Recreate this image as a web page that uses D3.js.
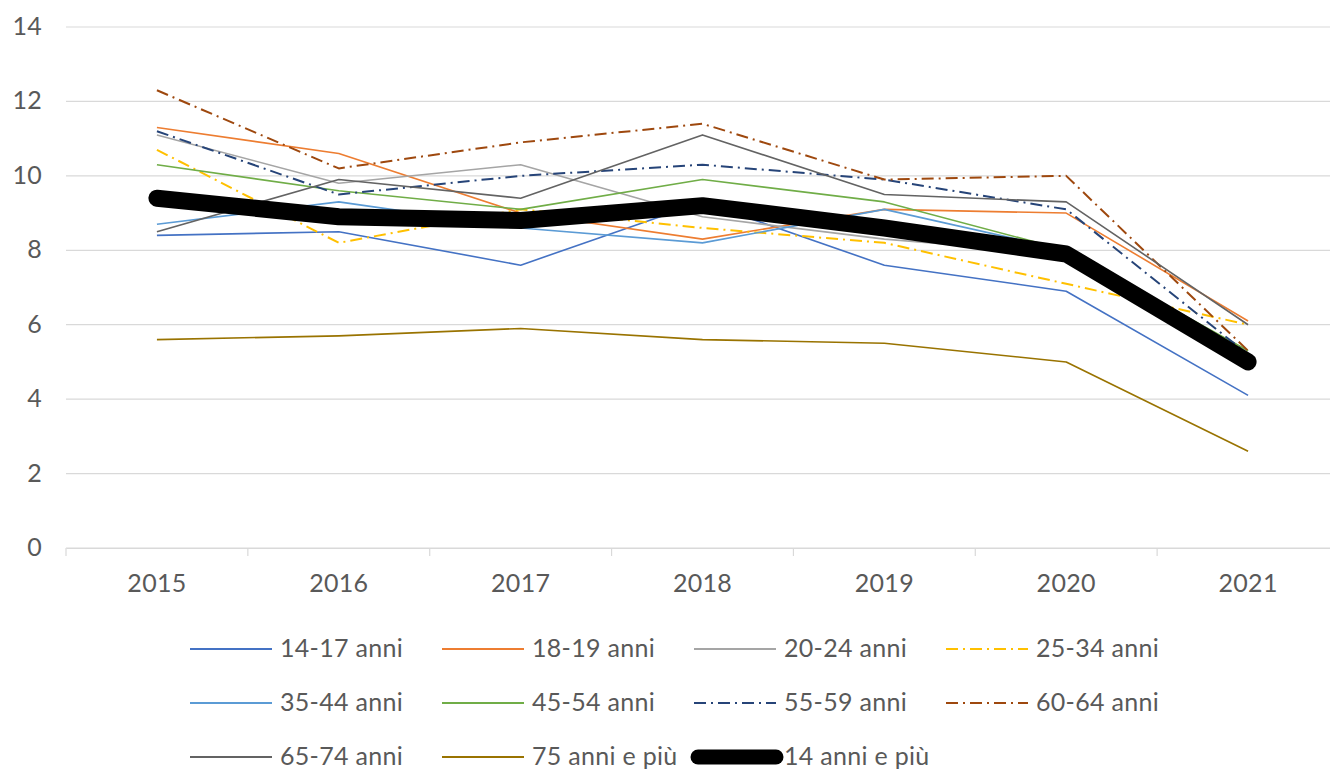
<!DOCTYPE html>
<html>
<head>
<meta charset="utf-8">
<script src="https://cdn.jsdelivr.net/npm/d3@7"></script>
<style>
  body { margin: 0; background: #fff; }
  svg { display: block; }
  text { font-family: Lato, "Open Sans", sans-serif; fill: #595959; letter-spacing: 0.3px; }
</style>
</head>
<body>
<svg id="chart" width="1330" height="771"></svg>
<script>
// years on the category axis
var years = ["2015", "2016", "2017", "2018", "2019", "2020", "2021"];
var yTicks = [0, 2, 4, 6, 8, 10, 12, 14];

// values, one array per age group
var a14_17 = [8.4, 8.5, 7.6, 9.3, 7.6, 6.9, 4.1];
var a18_19 = [11.3, 10.6, 9.0, 8.3, 9.1, 9.0, 6.1];
var a20_24 = [11.1, 9.8, 10.3, 8.9, 8.3, 7.9, 5.3];
var a25_34 = [10.7, 8.2, 9.1, 8.6, 8.2, 7.1, 6.0];
var a35_44 = [8.7, 9.3, 8.6, 8.2, 9.1, 8.0, 5.2];
var a45_54 = [10.3, 9.6, 9.1, 9.9, 9.3, 8.0, 5.3];
var a55_59 = [11.2, 9.5, 10.0, 10.3, 9.9, 9.1, 5.2];
var a60_64 = [12.3, 10.2, 10.9, 11.4, 9.9, 10.0, 5.3];
var a65_74 = [8.5, 9.9, 9.4, 11.1, 9.5, 9.3, 6.0];
var a75 = [5.6, 5.7, 5.9, 5.6, 5.5, 5.0, 2.6];
var a14plus = [9.4, 8.9, 8.8, 9.2, 8.6, 7.9, 5.0];

var dashDot = "12,5,2,5";

var series = [
    { name: "14-17 anni", values: a14_17, color: "#4472c4", width: 1.6, dash: null },
    { name: "18-19 anni", values: a18_19, color: "#ed7d31", width: 1.6, dash: null },
    { name: "20-24 anni", values: a20_24, color: "#a5a5a5", width: 1.6, dash: null },
    { name: "25-34 anni", values: a25_34, color: "#ffc000", width: 2, dash: dashDot },
    { name: "35-44 anni", values: a35_44, color: "#5b9bd5", width: 1.6, dash: null },
    { name: "45-54 anni", values: a45_54, color: "#70ad47", width: 1.6, dash: null },
    { name: "55-59 anni", values: a55_59, color: "#264478", width: 2, dash: dashDot },
    { name: "60-64 anni", values: a60_64, color: "#9e480e", width: 2, dash: dashDot },
    { name: "65-74 anni", values: a65_74, color: "#636363", width: 1.6, dash: null },
    { name: "75 anni e più", values: a75, color: "#997300", width: 1.6, dash: null },
    { name: "14 anni e più", values: a14plus, color: "#000000", width: 17, dash: null }
];

var svg = d3.select("#chart");

var x = d3.scaleBand()
    .domain(years)
    .range([66, 1339]);

var y = d3.scaleLinear()
    .domain([0, 14])
    .range([548, 27]);

// horizontal gridlines
svg.append("g")
    .selectAll("line")
    .data(yTicks)
    .enter()
    .append("line")
    .attr("x1", 66)
    .attr("x2", 1339)
    .attr("y1", d => y(d))
    .attr("y2", d => y(d))
    .attr("stroke", "#d9d9d9")
    .attr("stroke-width", 1.2);

// y tick labels
svg.append("g")
    .selectAll("text")
    .data(yTicks)
    .enter()
    .append("text")
    .attr("x", 42)
    .attr("y", d => y(d) + 8)
    .attr("text-anchor", "end")
    .style("font-size", "25px")
    .text(d => d);

// category axis with tick marks between years
var xAxis = svg.append("g")
    .attr("transform", "translate(0," + y(0) + ")")
    .call(d3.axisBottom(x).tickSize(0).tickPadding(26));
xAxis.select(".domain").attr("stroke", "#d9d9d9").attr("stroke-width", 1.2);
xAxis.selectAll("text")
    .style("font-size", "25px")
    .style("font-family", "Lato, 'Open Sans', sans-serif")
    .attr("fill", "#595959");

var bounds = years.map(d => x(d)).concat([x(years[years.length - 1]) + x.bandwidth()]);
svg.append("g")
    .selectAll("line")
    .data(bounds)
    .enter()
    .append("line")
    .attr("x1", d => d)
    .attr("x2", d => d)
    .attr("y1", y(0))
    .attr("y2", y(0) + 8)
    .attr("stroke", "#d9d9d9")
    .attr("stroke-width", 1.2);

// lines
var line = d3.line()
    .x((d, i) => x(years[i]) + x.bandwidth() / 2)
    .y(d => y(d));

svg.append("g")
    .selectAll("path")
    .data(series)
    .enter()
    .append("path")
    .attr("d", d => line(d.values))
    .attr("fill", "none")
    .attr("stroke", d => d.color)
    .attr("stroke-width", d => d.width)
    .attr("stroke-dasharray", d => d.dash)
    .attr("stroke-linejoin", "round")
    .attr("stroke-linecap", d => d.width > 5 ? "round" : "butt");

// legend, 4 columns
var colX = [190, 442, 694, 946];
var rowY = [649, 703, 757];

var legend = svg.append("g")
    .selectAll("g")
    .data(series)
    .enter()
    .append("g")
    .attr("transform", (d, i) => "translate(" + colX[i % 4] + "," + rowY[Math.floor(i / 4)] + ")");

legend.append("line")
    .attr("x1", d => d.width > 5 ? 4 : 0)
    .attr("x2", 82)
    .attr("y1", 0)
    .attr("y2", 0)
    .attr("stroke", d => d.color)
    .attr("stroke-width", d => d.width > 5 ? 15 : 2)
    .attr("stroke-dasharray", d => d.dash)
    .attr("stroke-linecap", d => d.width > 5 ? "round" : "butt");

legend.append("text")
    .attr("x", 90)
    .attr("y", 8)
    .style("font-size", "25px")
    .text(d => d.name);
</script>
</body>
</html>
